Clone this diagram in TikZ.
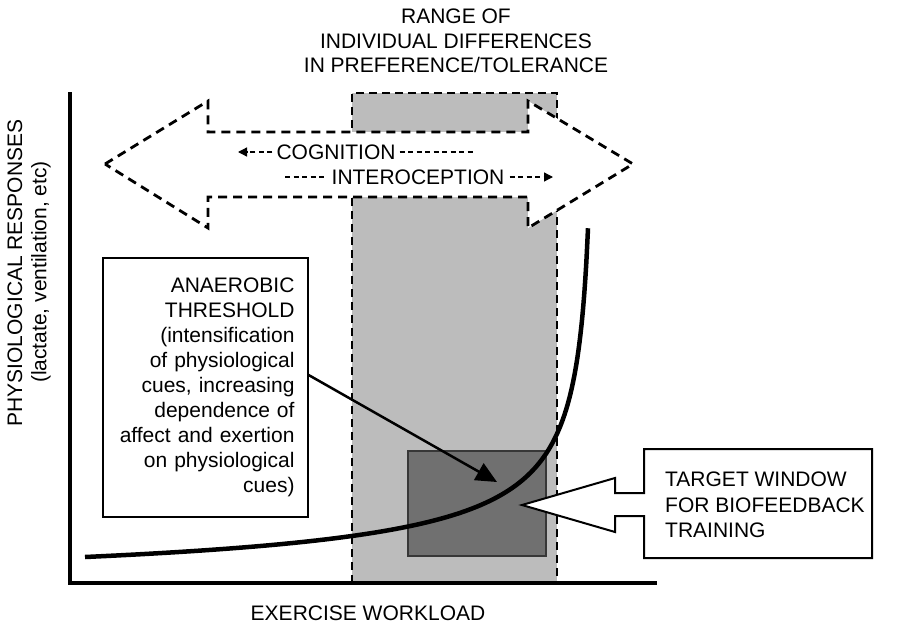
\documentclass[tikz,border=0pt]{standalone}
\usepackage{fontspec}
\setmainfont{Liberation Sans}
\usetikzlibrary{arrows.meta}
\definecolor{bandgray}{RGB}{188,188,188}
\definecolor{darkbox}{RGB}{112,112,112}
\definecolor{darkedge}{RGB}{55,55,55}
\begin{document}
\begin{tikzpicture}[x=1pt,y=-1pt,
  lbl/.style={font=\fontsize{21}{25}\selectfont, inner sep=0pt},
  bigdash/.style={line width=2.8pt, dash pattern=on 9pt off 6pt},
  banddash/.style={line width=2.2pt, dash pattern=on 8pt off 5pt},
  thindash/.style={line width=1.3pt, dash pattern=on 5pt off 3.5pt},
  smallhead/.style={-{Triangle[length=9pt,width=9pt]}},
]
\useasboundingbox (0,0) rectangle (899,624);

% title
\node[lbl, align=center, font=\fontsize{21}{24.5}\selectfont] (title) at (456,41)
  {RANGE OF\\INDIVIDUAL DIFFERENCES\\IN PREFERENCE/TOLERANCE};

% range band
\fill[bandgray] (352,93) rectangle (557,583);
\draw[banddash] (352,583) -- (352,93) -- (557,93) -- (557,583);

% big double arrow
\draw[bigdash, fill=white, line join=miter]
  (105,164) -- (208,101) -- (208,132) -- (528,132) -- (528,101) -- (633,164)
  -- (528,228) -- (528,197) -- (208,197) -- (208,228) -- cycle;

\node[lbl, inner xsep=4pt] (cog) at (336,152) {COGNITION};
\coordinate (cogL) at (238,152);
\coordinate (cogR) at (475,152);
\draw[thindash, smallhead] (cog.west) -- (cogL);
\draw[thindash] (cog.east) -- (cogR);

\node[lbl, inner xsep=5pt] (int) at (418,177) {INTEROCEPTION};
\coordinate (intL) at (285,177);
\coordinate (intR) at (553,177);
\draw[thindash] (intL) -- (int.west);
\draw[thindash, smallhead] (int.east) -- (intR);

% target window (dark box)
\draw[fill=darkbox, draw=darkedge, line width=1.5pt] (408,451) rectangle (546,556);

% axes
\draw[line width=4pt] (69.5,92) -- (69.5,583) -- (657,583);

% response curve
\draw[line width=4.5pt, smooth] plot[domain=85:588, samples=300]
  (\x, {557 - 1063*(1/sqrt(596-\x) - 0.044237)});

% anaerobic threshold box
\node[lbl, draw, line width=1.2pt, fill=white, align=right, text width=178pt,
  inner xsep=13.5pt, minimum width=205pt, minimum height=259pt]
  (anb) at (205.5,387.5)
  {ANAEROBIC\\THRESHOLD\\(intensification\\of physiological\\cues, increasing\\dependence of\\affect and exertion\\on physiological\\cues)};
\coordinate (ttip) at (497,482);
\draw[line width=2.5pt, -{Triangle[length=21pt,width=19pt]}] ([yshift=12.5pt]anb.east) -- (ttip);

% target window block arrow
\draw[line width=2pt, fill=white, line join=miter]
  (644,449) -- (872,449) -- (872,558) -- (644,558) -- (644,516) -- (615,516)
  -- (615,532) -- (522,505) -- (615,478) -- (615,493) -- (644,493) -- cycle;
\node[lbl, align=left, anchor=west, font=\fontsize{21}{25.5}\selectfont] (tw) at (665,505)
  {TARGET WINDOW\\FOR BIOFEEDBACK\\TRAINING};

% axis labels
\node[lbl] (xl) at (368,613) {EXERCISE WORKLOAD};
\node[lbl, rotate=90] (yl1) at (15,273) {PHYSIOLOGICAL RESPONSES};
\node[lbl, rotate=90] (yl2) at (41,272) {(lactate, ventilation, etc)};
\end{tikzpicture}
\end{document}
